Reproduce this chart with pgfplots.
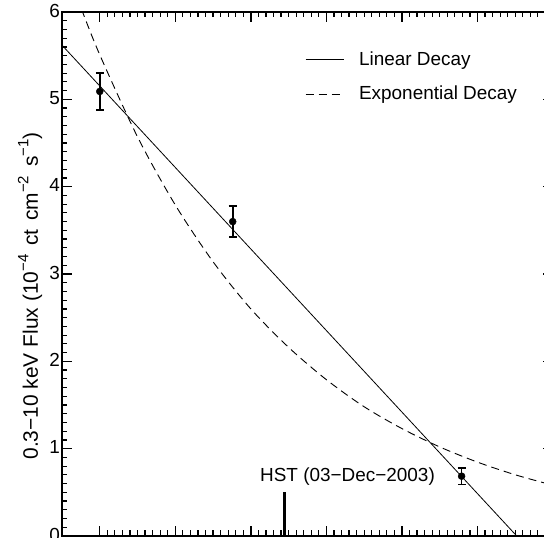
\documentclass[border=0pt]{standalone}
\usepackage{pgfplots}
\pgfplotsset{compat=1.18}
\usepackage{fontspec}
\setmainfont{Liberation Sans}
\newcommand{\upsc}[1]{\raisebox{0.45em}{\fontsize{15}{17}\selectfont #1}}
\begin{document}
\fontsize{19}{23}\selectfont
\begin{tikzpicture}
\begin{axis}[
  scale only axis, width=491bp, height=524bp,
  xmin=-0.5, xmax=6, ymin=0, ymax=6,
  xtick={0,1,2,3,4,5,6}, xticklabels={},
  ytick={0,1,2,3,4,5,6},
  minor x tick num=9, minor y tick num=9,
  xminorticks=true, yminorticks=true,
  tick align=inside, xtick pos=both, ytick pos=both,
  major tick length=10bp, minor tick length=5.5bp,
  tick style={line width=1.4bp, black},
  minor tick style={line width=1.2bp, black},
  axis line style={line width=1.6bp},
  /pgf/number format/assume math mode=true,
  yticklabel style={font=\fontsize{19}{23}\selectfont, inner xsep=2bp, yshift=1.5bp},
  ylabel={\fontsize{21}{25}\selectfont 0.3−10 keV Flux (10\upsc{−4}\hspace{3bp} ct\hspace{3bp} cm\upsc{−2}\hspace{3bp} s\upsc{−1})},
  every axis y label/.style={at={(axis description cs:-0.065,0.458)}, rotate=90, anchor=center},
  legend style={draw=none, fill=none, at={(rel axis cs:0.4949,0.925)}, anchor=north west,
    inner sep=0pt, row sep=18bp, nodes={inner sep=0pt, font=\fontsize{19}{23}\selectfont},
    /tikz/every odd column/.append style={column sep=15bp}},
  legend image code/.code={\draw[#1] (0bp,0bp) -- (38bp,0bp);},
  legend cell align=left,
]
\addplot[black, line width=0.8bp] coordinates {(-0.5,5.62) (6,-0.448)};
\addlegendentry{Linear Decay}
\addplot[black, line width=0.9bp, dash pattern=on 8bp off 5bp, smooth] coordinates {
 (-0.3,6.17) (-0.25,6.05) (0,5.51) (0.5,4.57) (1,3.79) (1.5,3.14) (2,2.60) (2.5,2.16)
 (3,1.79) (3.5,1.48) (4,1.23) (4.5,1.02) (5,0.846) (5.5,0.701) (6,0.581)};
\addlegendentry{Exponential Decay}
\addplot[black, only marks, mark=*, mark size=3.5bp, forget plot,
  error bars/.cd, y dir=both, y explicit,
  error bar style={line width=1.8bp},
  error mark options={rotate=90, mark size=4bp, line width=1.8bp}]
  coordinates {(0,5.09) +- (0,0.21) (1.76,3.60) +- (0,0.18) (4.79,0.685) +- (0,0.095)};
\addplot[black, line width=3bp, forget plot] coordinates {(2.45,0) (2.45,0.50)};
\node[font=\fontsize{19}{23}\selectfont] at (axis cs:3.28,0.68) {HST (03−Dec−2003)};
\end{axis}
\pgfresetboundingbox
\useasboundingbox (-62bp,-2bp) rectangle (482bp,536bp);
\end{tikzpicture}
\end{document}
